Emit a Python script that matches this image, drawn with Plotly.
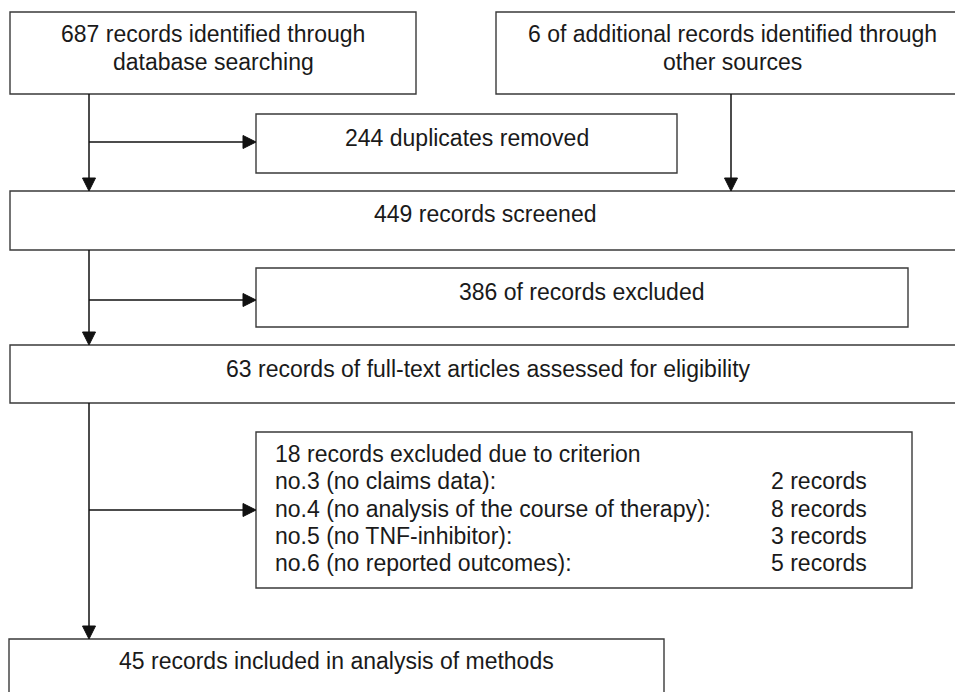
import plotly.graph_objects as go

W, H = 955, 692

# ---- data -------------------------------------------------------------
n_database = 687
n_other = 6
n_duplicates = 244
n_screened = 449
n_excluded = 386
n_fulltext = 63
n_excluded_criteria = 18
n_included = 45

criteria_labels = [
    "no.3 (no claims data):",
    "no.4 (no analysis of the course of therapy):",
    "no.5 (no TNF-inhibitor):",
    "no.6 (no reported outcomes):",
]
criteria_counts = [2, 8, 3, 5]

# ---- layout geometry (pixels, y downwards) ----------------------------
box_db = (10, 12, 416, 94)
box_other = (496, 12, 969, 94)
box_dup = (256, 114, 677, 173)
box_screen = (10, 191, 959, 250)
box_excl = (256, 268, 908, 327)
box_full = (10, 345, 967, 403)
box_crit = (256, 432, 912, 588)
box_incl = (9, 639, 664, 720)

FONT = dict(family="Liberation Sans, Arial, sans-serif", size=23, color="#1a1a1a")
BOX_LINE = dict(color="#3a3a3a", width=1.4)
ARROW_LINE = dict(color="#111111", width=1.5)

fig = go.Figure()
shapes = []
annotations = []

for b in [box_db, box_other, box_dup, box_screen, box_excl, box_full, box_crit, box_incl]:
    shapes.append(dict(type="rect", xref="x", yref="y", x0=b[0], y0=b[1], x1=b[2], y1=b[3],
                       line=BOX_LINE, fillcolor="rgba(0,0,0,0)", layer="above"))

main_x = 89
other_x = 731
# connectors: (x0, y0, x1, y1) ending with an arrowhead at (x1, y1)
arrows = [
    (main_x, box_db[3], main_x, box_screen[1]),
    (main_x, 142, box_dup[0], 142),
    (other_x, box_other[3], other_x, box_screen[1]),
    (main_x, box_screen[3], main_x, box_full[1]),
    (main_x, 300, box_excl[0], 300),
    (main_x, box_full[3], main_x, box_incl[1]),
    (main_x, 510, box_crit[0], 510),
]
HL, HW = 13, 6.5
for x0, y0, x1, y1 in arrows:
    if x0 == x1:  # vertical, pointing down
        shapes.append(dict(type="line", xref="x", yref="y", x0=x0, y0=y0, x1=x1, y1=y1 - HL + 1, line=ARROW_LINE))
        path = f"M {x1},{y1} L {x1-HW},{y1-HL} L {x1+HW},{y1-HL} Z"
    else:  # horizontal, pointing right
        shapes.append(dict(type="line", xref="x", yref="y", x0=x0, y0=y0, x1=x1 - HL + 1, y1=y1, line=ARROW_LINE))
        path = f"M {x1},{y1} L {x1-HL},{y1-HW} L {x1-HL},{y1+HW} Z"
    shapes.append(dict(type="path", xref="x", yref="y", path=path,
                       fillcolor="#111111", line=dict(color="#111111", width=1)))


def centered(text, box, y):
    annotations.append(dict(x=(box[0] + box[2]) / 2, y=y, xref="x", yref="y", text=text,
                            showarrow=False, xanchor="center", yanchor="middle", font=FONT))


centered(f"{n_database} records identified through", box_db, 34)
centered("database searching", box_db, 62)
centered(f"{n_other} of additional records identified through", box_other, 34)
centered("other sources", box_other, 62)
centered(f"{n_duplicates} duplicates removed", box_dup, 138)
centered(f"{n_screened} records screened", box_screen, 214)
centered(f"{n_excluded} of records excluded", box_excl, 292)
centered(f"{n_fulltext} records of full-text articles assessed for eligibility", box_full, 369)
centered(f"{n_included} records included in analysis of methods", box_incl, 661)

line_y0 = 454
line_dy = 27.3
annotations.append(dict(x=273, y=line_y0, xref="x", yref="y",
                        text=f"{n_excluded_criteria} records excluded due to criterion",
                        showarrow=False, xanchor="left", yanchor="middle", font=FONT))
for i, (lab, cnt) in enumerate(zip(criteria_labels, criteria_counts)):
    y = line_y0 + line_dy * (i + 1)
    annotations.append(dict(x=273, y=y, xref="x", yref="y", text=lab, showarrow=False,
                            xanchor="left", yanchor="middle", font=FONT))
    annotations.append(dict(x=769, y=y, xref="x", yref="y", text=f"{cnt} records", showarrow=False,
                            xanchor="left", yanchor="middle", font=FONT))

fig.update_layout(
    width=W, height=H,
    margin=dict(l=0, r=0, t=0, b=0),
    paper_bgcolor="white", plot_bgcolor="white",
    xaxis=dict(range=[0, W], visible=False, fixedrange=True),
    yaxis=dict(range=[H, 0], visible=False, fixedrange=True),
    shapes=shapes, annotations=annotations, showlegend=False,
)

fig.write_html(
    "out.html",
    config={"displayModeBar": False},
    post_script="document.body.style.margin='0';document.body.style.padding='0';document.body.style.overflow='hidden';",
)
